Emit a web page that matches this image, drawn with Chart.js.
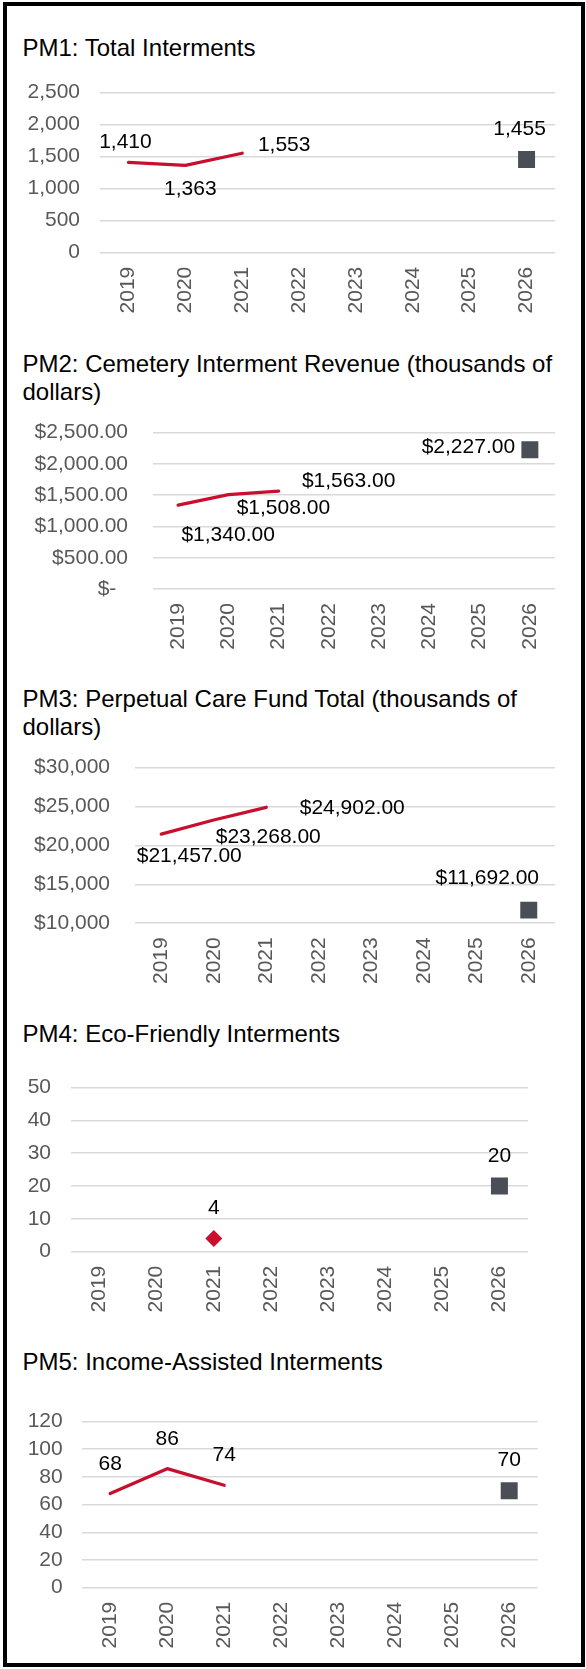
<!DOCTYPE html>
<html>
<head>
<meta charset="utf-8">
<script src="https://cdn.jsdelivr.net/npm/chart.js@4.4.1/dist/chart.umd.min.js"></script>
<style>
  html, body { margin: 0; padding: 0; background: #fff; }
  body { width: 586px; height: 1669px; position: relative; overflow: hidden; font-family: "Liberation Sans", Arial, sans-serif; }
  .frame { position: absolute; left: 3px; top: 2px; width: 582px; height: 1665px; border: 4px solid #000; box-sizing: border-box; }
  .title { position: absolute; left: 22.5px; font-size: 24px; line-height: 28px; color: #000; white-space: nowrap; }
  canvas { position: absolute; left: 0; }
</style>
</head>
<body>
<div class="frame"></div>

<div class="title" style="top:34px">PM1: Total Interments</div>
<canvas id="pm1" width="586" height="270" style="top:60px"></canvas>

<div class="title" style="top:350px">PM2: Cemetery Interment Revenue (thousands of<br>dollars)</div>
<canvas id="pm2" width="586" height="265" style="top:395px"></canvas>

<div class="title" style="top:685px">PM3: Perpetual Care Fund Total (thousands of<br>dollars)</div>
<canvas id="pm3" width="586" height="265" style="top:730px"></canvas>

<div class="title" style="top:1020px">PM4: Eco-Friendly Interments</div>
<canvas id="pm4" width="586" height="270" style="top:1055px"></canvas>

<div class="title" style="top:1348px">PM5: Income-Assisted Interments</div>
<canvas id="pm5" width="586" height="270" style="top:1390px"></canvas>

<script>
const years = ['2019', '2020', '2021', '2022', '2023', '2024', '2025', '2026'];

// PM1 total interments
const pm1Actual = [1410, 1363, 1553, null, null, null, null, null];
const pm1Target = [null, null, null, null, null, null, null, 1455];
const pm1Axis = [0, 2500, 500];

// PM2 interment revenue ($k)
const pm2Actual = [1340, 1508, 1563, null, null, null, null, null];
const pm2Target = [null, null, null, null, null, null, null, 2227];
const pm2Axis = [0, 2500, 500];

// PM3 perpetual care fund ($k)
const pm3Actual = [21457, 23268, 24902, null, null, null, null, null];
const pm3Target = [null, null, null, null, null, null, null, 11692];
const pm3Axis = [10000, 30000, 5000];

// PM4 eco-friendly
const pm4Actual = [null, null, 4, null, null, null, null, null];
const pm4Target = [null, null, null, null, null, null, null, 20];
const pm4Axis = [0, 50, 10];

// PM5 income-assisted
const pm5Actual = [68, 86, 74, null, null, null, null, null];
const pm5Target = [null, null, null, null, null, null, null, 70];
const pm5Axis = [0, 120, 20];

const RED = '#c8102e';
const GREY = '#4a4e57';
const TICK = '#595959';
const GRID = '#d9d9d9';
const FONT = '"Liberation Sans", Arial, sans-serif';

Chart.defaults.font.family = FONT;
Chart.defaults.font.size = 21;

const plain = v => v.toLocaleString('en-US');
const dollar = v => '$' + v.toLocaleString('en-US');
const dollar2 = v => '$' + v.toLocaleString('en-US', { minimumFractionDigits: 2, maximumFractionDigits: 2 });

// value labels next to each point, offsets in px from the point
function labelPlugin(fmt) {
  return {
    id: 'valueLabels',
    afterDatasetsDraw(chart) {
      const ctx = chart.ctx;
      ctx.save();
      ctx.font = '21px ' + FONT;
      ctx.fillStyle = '#000';
      ctx.textAlign = 'center';
      ctx.textBaseline = 'middle';
      chart.data.datasets.forEach((ds, i) => {
        const meta = chart.getDatasetMeta(i);
        meta.data.forEach((pt, j) => {
          const v = ds.data[j];
          if (v == null) return;
          const off = (ds.labelOffsets && ds.labelOffsets[j]) || [0, -30];
          ctx.fillText(fmt(v), pt.x + off[0], pt.y + off[1]);
        });
      });
      ctx.restore();
    }
  };
}

function makeChart(id, g) {
  const canvas = document.getElementById(id);
  const top = parseFloat(canvas.style.top);
  const h = canvas.height;
  new Chart(canvas, {
    type: 'line',
    data: {
      labels: years,
      datasets: [
        {
          data: g.actual,
          borderColor: RED,
          backgroundColor: RED,
          borderWidth: 3.3,
          borderCapStyle: 'round',
          borderJoinStyle: 'round',
          pointRadius: g.diamond ? 8.5 : 0,
          pointStyle: 'rectRot',
          pointBorderWidth: 0,
          labelOffsets: g.actualOffsets
        },
        {
          data: g.target,
          showLine: false,
          pointStyle: 'rect',
          pointRadius: 12,
          pointBackgroundColor: GREY,
          pointBorderColor: GREY,
          pointBorderWidth: 0,
          labelOffsets: g.targetOffsets
        }
      ]
    },
    options: {
      responsive: false,
      animation: false,
      events: [],
      layout: { padding: { left: 0, right: 586 - g.right, top: g.top - top, bottom: 0 } },
      plugins: { legend: { display: false }, tooltip: { enabled: false } },
      scales: {
        x: {
          offset: true,
          grid: { display: false, drawTicks: false },
          border: { display: false },
          ticks: { minRotation: 90, maxRotation: 90, autoSkip: false, padding: 14, color: TICK },
          afterFit: s => { s.height = top + h - g.bottom; }
        },
        y: {
          min: g.axis[0],
          max: g.axis[1],
          grid: { color: GRID, lineWidth: 1.6, drawTicks: false },
          border: { display: false },
          ticks: { stepSize: g.axis[2], autoSkip: false, padding: g.pad, color: TICK, callback: g.tickFmt },
          afterFit: s => { s.width = g.left; }
        }
      }
    },
    plugins: [labelPlugin(g.fmt)]
  });
}

makeChart('pm1', {
  actual: pm1Actual, target: pm1Target, axis: pm1Axis,
  left: 100, right: 555, top: 80.7, bottom: 252.7, pad: 20,
  tickFmt: plain, fmt: plain,
  actualOffsets: [[-3, -20], [5, 24], [42, -8]],
  targetOffsets: [null, null, null, null, null, null, null, [-7, -30]]
});

makeChart('pm2', {
  actual: pm2Actual, target: pm2Target, axis: pm2Axis,
  left: 153, right: 555, top: 415.7, bottom: 589, pad: 25,
  tickFmt: v => v === 0 ? '$-  ' : dollar2(v), fmt: dollar2,
  actualOffsets: [[50, 30], [55, 14], [70, -10]],
  targetOffsets: [null, null, null, null, null, null, null, [-61.5, -2]]
});

makeChart('pm3', {
  actual: pm3Actual, target: pm3Target, axis: pm3Axis,
  left: 135, right: 555, top: 751.7, bottom: 923.3, pad: 25,
  tickFmt: dollar, fmt: dollar2,
  actualOffsets: [[28, 22], [54.5, 17], [86, 1]],
  targetOffsets: [null, null, null, null, null, null, null, [-41.5, -32]]
});

makeChart('pm4', {
  actual: pm4Actual, target: pm4Target, axis: pm4Axis,
  left: 71, right: 528, top: 1079.3, bottom: 1251.7, pad: 20,
  tickFmt: plain, fmt: plain, diamond: true,
  actualOffsets: [null, null, [0, -30]],
  targetOffsets: [null, null, null, null, null, null, null, [0, -30]]
});

makeChart('pm5', {
  actual: pm5Actual, target: pm5Target, axis: pm5Axis,
  left: 81.7, right: 537.7, top: 1415.7, bottom: 1587.7, pad: 19,
  tickFmt: plain, fmt: plain,
  actualOffsets: [[0, -29], [0, -29], [0, -30]],
  targetOffsets: [null, null, null, null, null, null, null, [0, -31]]
});
</script>
</body>
</html>
